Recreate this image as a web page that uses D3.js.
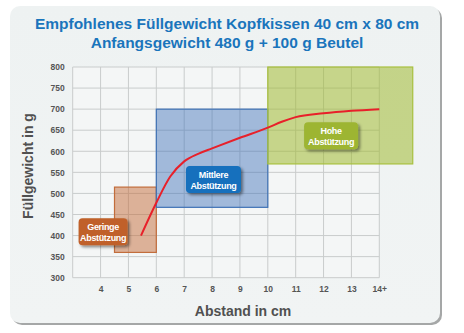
<!DOCTYPE html>
<html>
<head>
<meta charset="utf-8">
<script src="https://cdn.jsdelivr.net/npm/d3@7"></script>
<style>
  body { margin: 0; background: #fff; }
  text { font-family: "Liberation Sans", Arial, sans-serif; }
</style>
</head>
<body>
<div id="chart"></div>
<script>
var titleLines = ["Empfohlenes Füllgewicht Kopfkissen 40 cm x 80 cm", "Anfangsgewicht 480 g + 100 g Beutel"];
var xTicks = [4, 5, 6, 7, 8, 9, 10, 11, 12, 13, 14];
var xTickLabels = ["4", "5", "6", "7", "8", "9", "10", "11", "12", "13", "14+"];
var yTicks = [300, 350, 400, 450, 500, 550, 600, 650, 700, 750, 800];

// support zones: [x0, x1, y0, y1]
var zoneNames = ["Geringe", "Mittlere", "Hohe"];
var zoneX0 = [4.5, 6, 10];
var zoneX1 = [6, 10, 15.2];
var zoneY0 = [360, 467, 570];
var zoneY1 = [515, 700, 800];
// badge centre in data units
var badgeX = [4.09, 8.05, 12.27];
var badgeY = [409, 533, 637];

// recommended weight curve
var curveX = [5.45, 6, 6.5, 7, 7.5, 8, 9, 10, 10.5, 11, 12, 13, 14];
var curveY = [400, 478, 540, 576, 594, 607, 632, 656, 670, 681, 690, 696, 700];

var W = 464, H = 333;
var margin = { left: 72.7, right: 84.7, top: 67, bottom: 55.3 };
var width = W - margin.left - margin.right,
    height = H - margin.top - margin.bottom;

var zoneFill = ["rgba(196,108,58,0.5)", "rgba(60,110,185,0.45)", "rgba(160,186,50,0.55)"];
var zoneStroke = ["#c26d3c", "#3f72b5", "#a8c03e"];
var badgeFill = ["#c0612a", "#1270bd", "#9db533"];
var badgeW = [49, 55, 54];

var svg = d3.select("#chart").append("svg")
  .attr("width", W)
  .attr("height", H);

var defs = svg.append("defs");
var sh = defs.append("filter").attr("id", "shadow")
  .attr("x", "-20%").attr("y", "-20%").attr("width", "150%").attr("height", "160%");
sh.append("feDropShadow").attr("dx", 2).attr("dy", 2).attr("stdDeviation", 1.5)
  .attr("flood-color", "#000").attr("flood-opacity", 0.45);

var grad = defs.append("linearGradient").attr("id", "cardbg")
  .attr("x1", 0).attr("y1", 0).attr("x2", 0).attr("y2", 1);
grad.append("stop").attr("offset", "0%").attr("stop-color", "#eef2f2");
grad.append("stop").attr("offset", "100%").attr("stop-color", "#f1f4f4");

// card with shadow
svg.append("rect")
  .attr("x", 12).attr("y", 8).attr("width", 430).attr("height", 317)
  .attr("rx", 10).attr("fill", "#a5a7a7");
svg.append("rect")
  .attr("x", 10).attr("y", 6).attr("width", 430).attr("height", 317)
  .attr("rx", 10).attr("fill", "url(#cardbg)");

// title
svg.selectAll(".title")
  .data(titleLines)
  .enter().append("text")
  .attr("class", "title")
  .attr("x", 227)
  .attr("y", function(d, i) { return 29 + i * 19; })
  .attr("text-anchor", "middle")
  .attr("font-size", 15.5)
  .attr("font-weight", "bold")
  .attr("fill", "#1a75bc")
  .text(function(d) { return d; });

var g = svg.append("g")
  .attr("transform", "translate(" + margin.left + "," + margin.top + ")");

var x = d3.scaleLinear().domain([3, 14]).range([0, width]);
var y = d3.scaleLinear().domain([300, 800]).range([height, 0]);

g.append("rect").attr("width", width).attr("height", height).attr("fill", "#f4f6f6");

// grid
g.selectAll(".vgrid")
  .data(xTicks)
  .enter().append("line")
  .attr("x1", function(d) { return x(d); })
  .attr("x2", function(d) { return x(d); })
  .attr("y1", 0).attr("y2", height)
  .attr("stroke", "#c9cccc").attr("stroke-width", 1);
g.selectAll(".hgrid")
  .data(yTicks)
  .enter().append("line")
  .attr("x1", 0).attr("x2", width)
  .attr("y1", function(d) { return y(d); })
  .attr("y2", function(d) { return y(d); })
  .attr("stroke", "#c9cccc").attr("stroke-width", 1);
g.append("line").attr("x1", 0).attr("x2", 0).attr("y1", 0).attr("y2", height)
  .attr("stroke", "#c9cccc");

// X axis
var xAxis = d3.axisBottom(x)
  .tickValues(xTicks)
  .tickSize(0)
  .tickPadding(8)
  .tickFormat(function(d, i) { return xTickLabels[i]; });
g.append("g")
  .attr("class", "x axis")
  .attr("transform", "translate(0," + height + ")")
  .call(xAxis)
  .call(function(s) { s.select(".domain").remove(); })
  .selectAll("text")
  .attr("font-size", 8.5).attr("font-weight", "bold").attr("fill", "#555")
  .attr("font-family", "Liberation Sans, Arial, sans-serif");

// Y axis
var yAxis = d3.axisLeft(y).tickValues(yTicks).tickSize(0).tickPadding(8);
g.append("g")
  .attr("class", "y axis")
  .call(yAxis)
  .call(function(s) { s.select(".domain").remove(); })
  .selectAll("text")
  .attr("font-size", 8.5).attr("font-weight", "bold").attr("fill", "#555")
  .attr("font-family", "Liberation Sans, Arial, sans-serif");

// zones
var zones = zoneNames.map(function(n, i) {
  return { name: n, x0: zoneX0[i], x1: zoneX1[i], y0: zoneY0[i], y1: zoneY1[i], i: i };
});
g.selectAll(".zone")
  .data(zones)
  .enter().append("rect")
  .attr("class", "zone")
  .attr("x", function(d) { return x(d.x0); })
  .attr("y", function(d) { return y(d.y1); })
  .attr("width", function(d) { return x(d.x1) - x(d.x0); })
  .attr("height", function(d) { return y(d.y0) - y(d.y1); })
  .attr("fill", function(d) { return zoneFill[d.i]; })
  .attr("stroke", function(d) { return zoneStroke[d.i]; })
  .attr("stroke-width", 1.2);

// curve
var line = d3.line()
  .x(function(d) { return x(d[0]); })
  .y(function(d) { return y(d[1]); })
  .curve(d3.curveMonotoneX);
g.append("path")
  .datum(curveX.map(function(v, i) { return [v, curveY[i]]; }))
  .attr("d", line)
  .attr("fill", "none")
  .attr("stroke", "#e8202a")
  .attr("stroke-width", 2);

// badges
var bh = 27;
var badge = g.selectAll(".badge")
  .data(zones)
  .enter().append("g")
  .attr("class", "badge")
  .attr("transform", function(d) {
    return "translate(" + (x(badgeX[d.i]) - badgeW[d.i] / 2) + "," + (y(badgeY[d.i]) - bh / 2) + ")";
  });
badge.append("rect")
  .attr("width", function(d) { return badgeW[d.i]; }).attr("height", bh).attr("rx", 4)
  .attr("fill", function(d) { return badgeFill[d.i]; })
  .attr("filter", "url(#shadow)");
badge.append("text")
  .attr("x", function(d) { return badgeW[d.i] / 2; }).attr("y", 12)
  .attr("text-anchor", "middle")
  .attr("font-size", 9).attr("font-weight", "bold").attr("fill", "#fff")
  .attr("letter-spacing", -0.35)
  .text(function(d) { return d.name; });
badge.append("text")
  .attr("x", function(d) { return badgeW[d.i] / 2; }).attr("y", 22.5)
  .attr("text-anchor", "middle")
  .attr("font-size", 9).attr("font-weight", "bold").attr("fill", "#fff")
  .attr("letter-spacing", -0.35)
  .text("Abstützung");

// axis titles
svg.append("text")
  .attr("transform", "translate(33,166) rotate(-90)")
  .attr("text-anchor", "middle")
  .attr("font-size", 14).attr("font-weight", "bold").attr("fill", "#505050")
  .text("Füllgewicht in g");
svg.append("text")
  .attr("x", 243).attr("y", 316)
  .attr("text-anchor", "middle")
  .attr("font-size", 14).attr("font-weight", "bold").attr("fill", "#505050")
  .text("Abstand in cm");
</script>
</body>
</html>
